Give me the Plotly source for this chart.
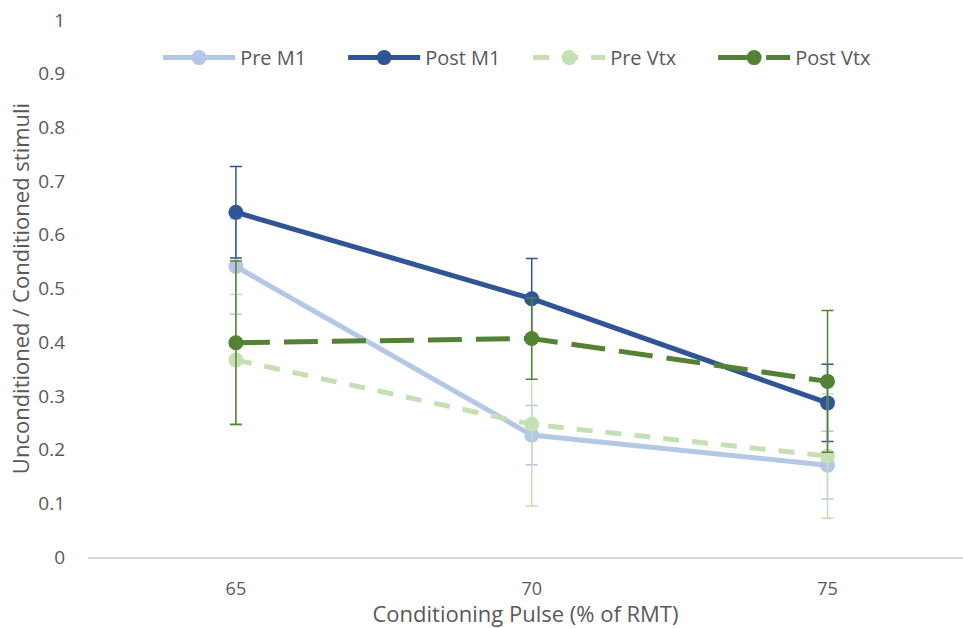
import plotly.graph_objects as go

# Conditioning pulse intensities (% of resting motor threshold)
pulses = ["65", "70", "75"]

# Unconditioned / conditioned stimulus ratios (means) and error magnitudes
pre_m1 = [0.541, 0.227, 0.171]
pre_m1_err = [0.089, 0.055, 0.063]
post_m1 = [0.642, 0.481, 0.287]
post_m1_err = [0.085, 0.075, 0.072]
pre_vtx = [0.367, 0.247, 0.188]
pre_vtx_err = [0.122, 0.152, 0.116]
post_vtx = [0.399, 0.407, 0.327]
post_vtx_err = [0.152, 0.076, 0.132]

series = [
    ("Pre M1", pre_m1, pre_m1_err, "#B4C7E7", "solid"),
    ("Post M1", post_m1, post_m1_err, "#2F5597", "solid"),
    ("Pre Vtx", pre_vtx, pre_vtx_err, "#C5E0B4", "16px,13px"),
    ("Post Vtx", post_vtx, post_vtx_err, "#548235", "34px,14px"),
]

FONT = "Open Sans"
TEXT = "#595959"

fig = go.Figure()
for name, vals, errs, color, dash in series:
    fig.add_trace(go.Scatter(
        x=pulses, y=vals, name=name, mode="lines+markers",
        line=dict(color=color, width=5, dash=dash),
        marker=dict(color=color, size=15),
        error_y=dict(type="data", array=errs, visible=True,
                     color=color, thickness=1.5, width=6),
    ))

fig.update_layout(
    width=963, height=628,
    margin=dict(l=88, r=0, t=20, b=71),
    paper_bgcolor="white", plot_bgcolor="white",
    font=dict(family=FONT, color=TEXT, size=19),
    showlegend=True,
    legend=dict(orientation="h", x=0.503, xanchor="center", y=0.93, yanchor="middle",
                font=dict(size=20, color=TEXT), itemwidth=72,
                entrywidth=98, entrywidthmode="pixels",
                bgcolor="rgba(0,0,0,0)"),
    xaxis=dict(
        type="category", range=[-0.5, 2.458],
        showline=True, linecolor="#D9D9D9", linewidth=2,
        showgrid=False, ticks="", zeroline=False,
        ticklabelstandoff=14,
        tickfont=dict(size=18, color=TEXT),
        title=dict(text="Conditioning Pulse (% of RMT)", font=dict(size=22, color=TEXT),
                   standoff=2),
    ),
    yaxis=dict(
        range=[0, 1], dtick=0.1, tickformat="~g",
        showline=False, showgrid=False, zeroline=False, ticks="",
        ticklabelstandoff=22,
        tickfont=dict(size=19, color=TEXT),
        title=dict(text="Unconditioned / Conditioned stimuli", font=dict(size=22, color=TEXT),
                   standoff=2),
    ),
)

fig.write_html("out.html")
